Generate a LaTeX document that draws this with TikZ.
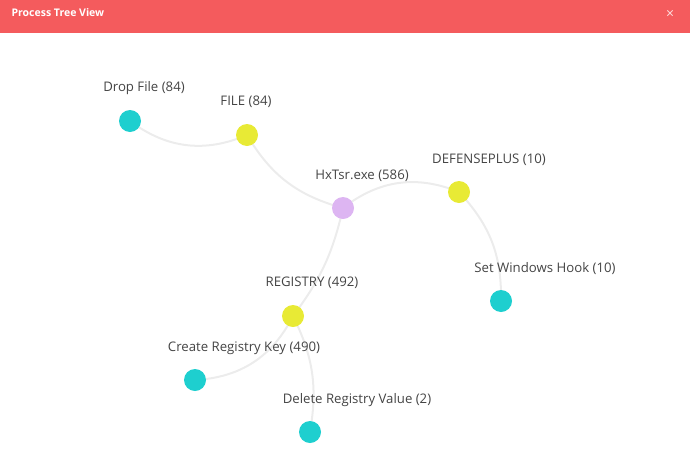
\documentclass[tikz,border=0pt]{standalone}
\usepackage{fontspec}
\setmainfont{Open Sans}
\definecolor{headred}{HTML}{F45B5D}
\definecolor{leafcyan}{HTML}{1ECFCF}
\definecolor{catyellow}{HTML}{E8EA35}
\definecolor{rootpurple}{HTML}{DDB5F2}
\definecolor{linkgray}{HTML}{ECECEC}
\definecolor{labelgray}{HTML}{444444}
\begin{document}
\begin{tikzpicture}
                [x=1pt, y=-1pt,
                 dot/.style = {circle, minimum size = 22pt, inner sep=0pt},
                 leaf/.style = {dot, fill=leafcyan},
                 cat/.style = {dot, fill=catyellow},
                 root/.style = {dot, fill=rootpurple},
                 lbl/.style = {text=labelgray, font=\fontsize{13.2}{15}\selectfont},
                 link/.style = {draw=linkgray, line width=2pt}]
                \useasboundingbox (0,0) rectangle (690,474);
                % Header bar
                \fill[headred] (0,0) rectangle (690,33);
                \node[anchor=west, text=white, font=\bfseries\fontsize{10.5}{12}\selectfont] (title) at (8,13) {Process Tree View};
                \node[text=white!80!headred, font=\fontsize{14}{14}\selectfont] (close) at (670,14) {×};
                % Links
                \path[link] (130,121) coordinate (pdrop) to[bend right=30] (247,135) coordinate (pfile);
                \path[link] (pfile) to[bend right=22] (343,208) coordinate (phx);
                \path[link] (phx) to[bend left=30] (459,192) coordinate (pdef);
                \path[link] (pdef) to[bend left=22] (501,301) coordinate (phook);
                \path[link] (phx) to[bend left=12] (293,316) coordinate (preg);
                \path[link] (preg) to[bend left=30] (195,380) coordinate (pcreate);
                \path[link] (preg) to[bend left=18] (310,432) coordinate (pdelete);
                % Nodes
                \node[leaf] (drop) at (pdrop) {};
                \node[cat] (file) at (pfile) {};
                \node[root] (hx) at (phx) {};
                \node[cat] (def) at (pdef) {};
                \node[leaf] (hook) at (phook) {};
                \node[cat] (reg) at (preg) {};
                \node[leaf] (create) at (pcreate) {};
                \node[leaf] (delete) at (pdelete) {};
                % Labels
                \node[lbl] (ldrop) at (144,88) {Drop File (84)};
                \node[lbl] (lfile) at (246,102) {FILE (84)};
                \node[lbl] (lhx) at (362,176) {HxTsr.exe (586)};
                \node[lbl] (ldef) at (489,160) {DEFENSEPLUS (10)};
                \node[lbl] (lhook) at (545,269) {Set Windows Hook (10)};
                \node[lbl] (lreg) at (312,283) {REGISTRY (492)};
                \node[lbl] (lcreate) at (244,348) {Create Registry Key (490)};
                \node[lbl] (ldelete) at (357,400) {Delete Registry Value (2)};
            \end{tikzpicture}
\end{document}
